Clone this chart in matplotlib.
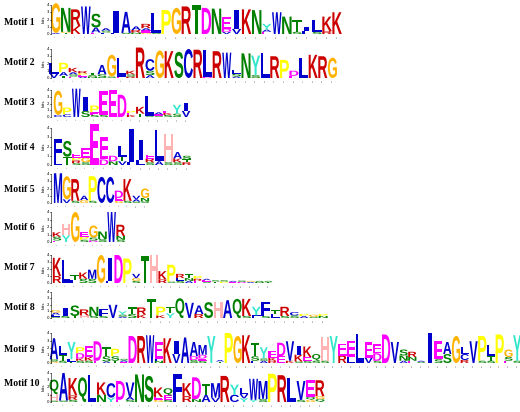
import matplotlib
matplotlib.use("Agg")
import matplotlib.pyplot as plt
from matplotlib.textpath import TextPath
from matplotlib.font_manager import FontProperties
from matplotlib.patches import PathPatch
from matplotlib.transforms import Affine2D

# every column: letters with their height in bits ("R2.3" = R, 2.3 bits)
motif1 = ["A0.15 G4.1", "T0.15 G0.15 N3.3", "K1.1 R2.3", "W3.8", "E0.2 A0.7 S1.9",
          "L0.2 S0.25 A0.35", "L0.2 I3.0", "S0.15 A2.9", "N0.2 R0.35 A0.5",
          "G0.2 E0.3 A0.3 R0.6", "S0.15 L2.8", "P3.3", "G3.6", "R3.8", "T4.0", "D3.6",
          "N3.5", "V0.3 D0.4 E1.6", "V0.7 I2.6", "K3.4", "N3.3", "E0.3 A0.3 Y0.8",
          "W3.0", "N2.4", "S0.3 T1.6", "L0.4 I0.6", "S0.3 L1.6", "R0.4 K2.0", "K3.0"]
motif2 = ["V0.6 L1.5", "T0.3 A0.5 P1.3", "E0.2 S0.3 A0.3 K0.6", "A0.2 E0.2 P0.25 R0.3",
          "N0.2 S0.2 T0.3", "S0.5 A1.3", "S0.2 G3.0", "E0.2 L2.6", "R0.2 S0.3 K0.5",
          "R4.2", "A0.4 S0.6 C1.6", "G3.8", "K3.7", "S3.6", "C4.0", "R3.9", "D0.2 L3.6",
          "R3.7", "W3.5", "A0.2 S0.4 L0.5", "N3.4", "S0.4 Y2.7", "L3.5", "R3.0", "P2.5",
          "E0.3 D0.7", "L2.7", "K3.2", "R3.0", "G2.8"]
motif3 = ["C0.3 G3.6", "C0.4 P1.0", "W4.2", "S0.9 I2.0", "S0.3 E0.4 P1.0", "S0.3 E3.5",
          "E4.0", "D3.3", "K0.3 E0.3 P0.3", "T0.5 K1.0", "S0.2 L2.9", "S0.2 E0.2 A0.3",
          "S0.3 K0.3 E0.3", "S0.5 Y1.3", "V0.9 I1.2"]
motif4 = ["L0.5 F2.3", "T0.9 S1.7", "S0.2 R0.3 P0.3 E0.4", "S0.3 G0.5 E1.0", "E4.4",
          "D0.6 E2.4", "N0.4 D0.6", "V0.4 T0.5 L1.2", "L0.3 I3.6", "L0.5 I2.2",
          "S0.3 R0.4 E0.4", "A0.4 L3.4", "S0.3 H3.0", "S0.3 K0.4 A0.7", "R0.3 T0.3 S0.4"]
motif5 = ["M4.1", "V0.5 G3.2", "S0.3 R3.0", "G0.4 A0.6", "S0.3 P3.4", "C3.6", "C3.6",
          "G0.3 E0.4 D1.0", "S0.3 K3.0", "S0.2 A0.3 V0.5", "S0.2 N0.5 G1.3"]
motif6 = ["E0.2 S0.5 K0.6", "Y0.9 H1.5", "G4.0", "S0.3 P0.4 E0.6", "D0.2 S0.4 G1.6",
          "S0.4 N1.0", "W4.0", "S0.3 N0.5 R1.5"]
motif7 = ["R1.0 K2.6", "L3.3", "L0.4 T0.8", "S0.6 K0.9", "S0.6 M1.3", "G4.0", "L0.3 I3.3",
          "D4.0", "P3.5", "S0.3 G0.4 V0.6", "T3.8", "H4.0", "R0.5 K1.2", "S0.2 P2.4",
          "S0.3 L0.4 R0.6", "A0.3 N0.4 T0.6", "E0.3 R0.3 P0.4", "S0.2 E0.2 A0.2",
          "T0.2 S0.2", "P0.2 S0.2", "E0.15 A0.15", "S0.2 D0.15", "A0.15 G0.15",
          "N0.15 S0.15", "S0.2 T0.1"]
motif8 = ["S0.2 L0.3 A0.3 G0.4", "S0.3 I1.2", "T0.3 S1.6", "H0.4 R0.9", "S0.3 N1.4",
          "S0.3 F1.0", "V2.0", "A0.2 S0.3 Y0.5", "S0.6 T1.0", "K0.5 R1.1", "T2.9",
          "K0.4 P1.3", "Y0.7 T1.0", "Q3.0", "V2.3", "R0.6 A1.3", "S2.4", "H2.5", "A2.7",
          "Q2.9", "S0.3 K2.6", "F0.4 Y1.3", "S0.3 F2.2", "L0.6 T0.6", "S0.3 R1.4",
          "S0.4 C0.5", "A0.3 P0.3", "S0.2 G0.3", "N0.3 P0.3"]
motif9 = ["G0.2 S0.3 A2.8", "S0.3 T0.8 L1.2", "T0.2 L0.3 Y2.3", "S0.3 K0.3 D0.7 P0.8",
          "S0.3 K0.5 E1.5", "E0.3 D2.6", "A0.2 S0.7 T1.2", "T0.3 S0.6 P1.0",
          "E0.15 A0.2 S0.2", "D3.6", "R3.6", "W3.7", "N0.3 F0.3 E2.2", "K3.3", "V1.2 I1.7",
          "A3.4", "S0.4 D0.5 A1.9", "S0.3 E0.3 D0.5 M1.3", "Y3.6", "T0.2 A0.2", "P4.0",
          "G3.6", "K3.7", "L0.3 S0.6 T1.8", "A0.3 S0.3 Y1.5", "R0.3 K0.4 E0.9",
          "E0.9 D1.8", "K0.3 V2.6", "S0.2 K0.9 I1.2", "S0.3 E0.5 K1.4", "S0.3 Q0.9",
          "S0.3 H3.2", "Y3.6", "R1.0 E1.6", "L0.8 E2.2", "L3.9", "V0.7 E2.1",
          "S0.3 D1.0 E1.2", "D3.8", "V2.8", "A0.3 N0.7 S0.8", "E0.3 N0.5 R0.7",
          "S0.15 A0.15", "I4.0", "S0.5 E2.4", "S1.2 A1.6", "G3.6", "R0.4 C0.8 L0.9",
          "V2.9", "S0.3 P3.3", "S0.3 T0.6 L1.5", "P3.8", "E0.3 S0.5 G1.0", "S0.3 Y3.4"]
motif10 = ["S0.2 H0.9 Q2.0", "S0.2 A3.8", "S0.3 R0.6 K2.4", "Q3.4", "L3.7", "N1.0 K1.7",
           "Y0.6 C2.0", "E0.3 D2.6", "S0.3 A0.4 V2.0", "N3.8", "S3.6", "G0.3 E0.4 K1.3",
           "S0.3 E0.6 Q1.0", "F3.8", "R0.8 K1.8", "N0.4 D3.0", "A1.0 T1.5", "V0.6 M2.0",
           "R3.6", "C1.0 Y1.4", "Y0.5 V0.6 L0.9", "Y0.3 W2.9", "S0.4 M2.5", "P3.9",
           "R3.7", "L3.3", "S0.3 V2.6", "G0.3 Q0.4 E2.3", "Q0.4 G0.4 R2.2"]

motifs = [motif1, motif2, motif3, motif4, motif5, motif6, motif7, motif8, motif9, motif10]
names = ["Motif %d" % (i + 1) for i in range(10)]

# where each logo sits in the picture (pixels):
# first column centre, column width, y of 0 bits, pixels per bit, label y
layout = [(55.7, 10.05, 34, 7.25, 22),
          (54.0, 9.6, 78, 7.25, 62),
          (58.0, 9.15, 117, 6.75, 102),
          (58.0, 9.2, 165, 9.25, 147),
          (58.0, 8.7, 203, 7.25, 189),
          (57.0, 9.1, 242, 7.5, 227),
          (57.0, 8.8, 283, 7.0, 268),
          (55.7, 9.55, 318, 6.6, 307),
          (54.0, 8.74, 363, 7.5, 350),
          (54.0, 9.5, 402, 7.25, 384)]

colours = {}
for c in "ACFILVWM":
    colours[c] = "#0000CC"
for c in "NQST":
    colours[c] = "#008000"
for c in "DE":
    colours[c] = "#FF00FF"
for c in "KR":
    colours[c] = "#CC0000"
colours["H"] = "#FFB3B3"
colours["G"] = "#FFB300"
colours["P"] = "#FFFF00"
colours["Y"] = "#33E6CC"

W, H = 520, 412
fig = plt.figure(figsize=(5.2, 4.12), dpi=100)
ax = fig.add_axes([0, 0, 1, 1])
ax.set_xlim(0, W)
ax.set_ylim(H, 0)
ax.axis("off")

fp = FontProperties(family="Liberation Sans", weight="bold")
glyphs = {}


def glyph(ch):
    if ch not in glyphs:
        p = TextPath((0, 0), ch, size=100, prop=fp)
        glyphs[ch] = (p, p.get_extents())
    return glyphs[ch]


def draw_letter(ch, cx, colw, ybase, hpx):
    p, bb = glyph(ch)
    lw = colw * (0.5 if ch == "I" else 0.94)
    tr = (Affine2D().translate(-bb.x0 - bb.width / 2, -bb.y0)
          .scale(lw / bb.width, -hpx / bb.height).translate(cx, ybase))
    ax.add_patch(PathPatch(tr.transform_path(p), fc=colours[ch], ec="none", lw=0))


axis_x = 51
for m, cols in enumerate(motifs):
    c0, colw, y0, ppb, ly = layout[m]
    # label
    ax.text(3.5, ly, names[m], fontfamily="Liberation Serif", fontweight="bold",
            fontsize=7, ha="left", va="center")
    # y axis
    ax.plot([axis_x, axis_x], [y0, y0 - 4 * ppb], color="black", lw=0.4)
    for b in range(5):
        yy = y0 - b * ppb
        ax.plot([axis_x - 1.2, axis_x], [yy, yy], color="black", lw=0.4)
        ax.text(axis_x - 1.6, yy, str(b), fontsize=2.8, ha="right", va="center")
    ax.text(axis_x - 7, y0 - 2 * ppb, "bits", rotation=90, fontsize=3,
            ha="center", va="center")
    # stacks
    for i, col in enumerate(cols):
        cx = c0 + i * colw
        items = [(s[0], float(s[1:])) for s in col.split()]
        items.sort(key=lambda t: t[1])
        ybase = y0
        for ch, h in items:
            hpx = h * ppb
            if hpx > 0.3:
                draw_letter(ch, cx, colw, ybase, hpx)
            ybase -= hpx
        ax.text(cx, y0 + 1.2, str(i + 1), fontsize=1.6, color="#666666",
                rotation=90, ha="center", va="top")

fig.savefig("out.png", dpi=100)
